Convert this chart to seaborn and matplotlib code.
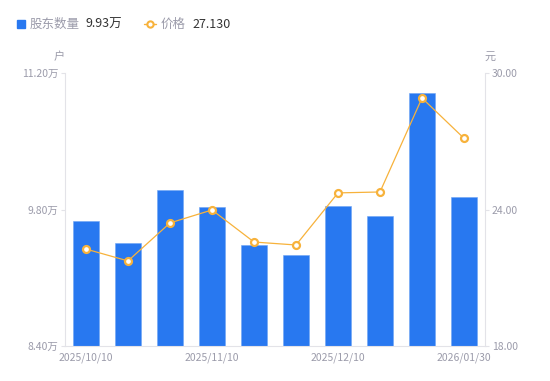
import numpy as np
import pandas as pd
import matplotlib
matplotlib.use('Agg')
import matplotlib.pyplot as plt
from matplotlib.lines import Line2D
import seaborn as sns

# data
dates = ['2025/10/10', '2025/10/20', '2025/10/31', '2025/11/10', '2025/11/20',
         '2025/11/28', '2025/12/10', '2025/12/19', '2025/12/31', '2026/01/30']
holders = [9.68, 9.46, 10.00, 9.83, 9.44, 9.33, 9.84, 9.73, 11.00, 9.93]   # 万户
price = [22.26, 21.74, 23.41, 23.98, 22.57, 22.44, 24.73, 24.77, 28.90, 27.13]  # 元
shown_ticks = ['2025/10/10', '2025/11/10', '2025/12/10', '2026/01/30']

sns.set_style('white')
plt.rcParams['font.family'] = ['Noto Sans CJK SC', 'DejaVu Sans']

BLUE = '#2878F0'
ORANGE = '#F7B23B'
GREY = '#9B9BAA'
AXIS = '#E3E3E8'

df = pd.DataFrame({'date': dates, 'holders': holders, 'price': price})

fig = plt.figure(figsize=(5.5, 3.81), dpi=100)
ax = fig.add_axes([65 / 550, 1 - 346 / 381, 420 / 550, 273 / 381])

sns.barplot(data=df, x='date', y='holders', ax=ax, color=BLUE, width=0.6,
            saturation=1, edgecolor='#6FA4F5', linewidth=0.4)
ax.set_ylim(8.4, 11.2)
ax.set_yticks([8.4, 9.8, 11.2])
ax.set_yticklabels(['8.40万', '9.80万', '11.20万'])
ax.set_xlim(-0.5, len(dates) - 0.5)
ax.set_xticks([dates.index(d) for d in shown_ticks])
ax.set_xticklabels(shown_ticks)
ax.set_xlabel('')
ax.set_ylabel('')

ax2 = ax.twinx()
sns.lineplot(x=np.arange(len(price)), y=price, ax=ax2, color=ORANGE, linewidth=0.9,
             marker='o', markersize=5, markerfacecolor='white',
             markeredgecolor=ORANGE, markeredgewidth=1.6)
ax2.set_ylim(18, 30)
ax2.set_yticks([18, 24, 30])
ax2.set_yticklabels(['18.00', '24.00', '30.00'])
ax2.set_xlim(-0.5, len(dates) - 0.5)

for a in (ax, ax2):
    for s in a.spines.values():
        s.set_visible(False)
    a.tick_params(colors=GREY, labelsize=7.5, length=3, width=0.8, pad=2)
    a.grid(False)
ax.spines['left'].set_visible(True)
ax.spines['left'].set_color(AXIS)
ax.spines['bottom'].set_visible(True)
ax.spines['bottom'].set_color(AXIS)
ax2.spines['right'].set_visible(True)
ax2.spines['right'].set_color(AXIS)
ax.tick_params(axis='both', color=AXIS, labelcolor=GREY)
ax.tick_params(axis='x', length=0, pad=5)
ax2.tick_params(axis='y', color=AXIS, labelcolor=GREY)

# axis units
fig.text(59 / 550, 1 - 57 / 381, '户', color=GREY, fontsize=8, ha='center', va='center')
fig.text(490 / 550, 1 - 57 / 381, '元', color=GREY, fontsize=8, ha='center', va='center')

# legend row
ly = 1 - 24 / 381
fig.add_artist(Line2D([21 / 550], [ly], marker='s', markersize=6, color=BLUE,
                      transform=fig.transFigure))
fig.text(30 / 550, ly, '股东数量', color=GREY, fontsize=9, va='center')
fig.text(85 / 550, ly, f'{holders[-1]:.2f}万', color='#333333', fontsize=9, va='center')
fig.add_artist(Line2D([144 / 550, 156 / 550], [ly, ly], color=ORANGE, linewidth=1,
                      transform=fig.transFigure))
fig.add_artist(Line2D([150 / 550], [ly], marker='o', markersize=4.5, color=ORANGE,
                      markerfacecolor='white', markeredgewidth=1.5,
                      transform=fig.transFigure))
fig.text(161 / 550, ly, '价格', color=GREY, fontsize=9, va='center')
fig.text(192 / 550, ly, f'{price[-1]:.3f}', color='#333333', fontsize=9, va='center')

fig.savefig('out.png', dpi=100)
